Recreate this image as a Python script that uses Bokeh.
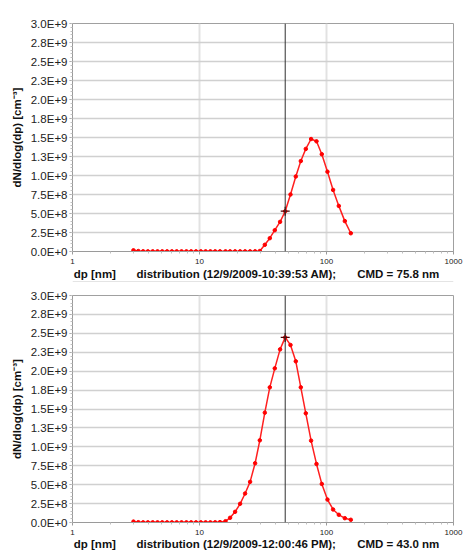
from bokeh.plotting import figure
from bokeh.models import Range1d, FixedTicker, Span
from bokeh.core.properties import value
from bokeh.layouts import column
from bokeh.embed import file_html
from bokeh.resources import INLINE

# ---------------- data ----------------
dp_nm = [3.02, 3.30, 3.60, 3.92, 4.28, 4.67, 5.09, 5.56, 6.06, 6.61, 7.22, 7.89, 8.60, 9.39,
         10.24, 11.17, 12.18, 13.29, 14.50,
         16.02, 17.41, 19.07, 20.88, 22.86, 25.02, 27.41, 29.85, 32.68, 35.77, 39.16, 43.11,
         47.30, 52.06, 57.32, 62.76, 68.71, 75.62, 83.41, 91.84, 101.8, 112.7, 125.0, 139.4, 155.4]

dist_1039 = [1.6e7, 6e6, 3e6, 2e6, 2e6, 2e6, 2e6, 2e6, 2e6, 2e6, 2e6, 2e6, 2e6, 2e6,
             2e6, 2e6, 2e6, 2e6, 2e6,
             2e6, 2e6, 2e6, 2e6, 2e6, 2e6, 3e6, 6e6, 8.8e7, 1.75e8, 2.8e8, 3.9e8,
             5.3e8, 7.5e8, 9.87e8, 1.19e9, 1.35e9, 1.48e9, 1.45e9, 1.28e9, 1.05e9, 8.1e8, 6.0e8, 4.0e8, 2.4e8]

dist_1200 = [1.2e7, 4e6, 2e6, 2e6, 2e6, 2e6, 2e6, 2e6, 2e6, 2e6, 2e6, 2e6, 2e6, 2e6,
             2e6, 2e6, 2e6, 3e6, 5e6,
             1.7e7, 6.2e7, 1.41e8, 2.47e8, 3.83e8, 5.37e8, 7.83e8, 1.086e9, 1.452e9, 1.786e9, 2.037e9, 2.288e9,
             2.446e9, 2.346e9, 2.13e9, 1.786e9, 1.443e9, 1.082e9, 7.74e8, 5.1e8, 3.03e8, 1.72e8, 1.02e8, 5.7e7, 3.6e7]

cursor_index = 31

stamps = ["distribution (12/9/2009-10:39:53 AM);", "distribution (12/9/2009-12:00:46 PM);"]
cmd_labels = ["CMD = 75.8 nm", "CMD = 43.0 nm"]
x_title = "dp [nm]"
y_title = "dN/dlog(dp) [cm⁻³]"

y_ticks = [0, 250000000, 500000000, 750000000, 1000000000, 1250000000, 1500000000,
           1750000000, 2000000000, 2250000000, 2500000000, 2750000000, 3000000000]
y_tick_labels = ["0.0E+0", "2.5E+8", "5.0E+8", "7.5E+8", "1.0E+9", "1.3E+9", "1.5E+9",
                 "1.8E+9", "2.0E+9", "2.3E+9", "2.5E+9", "2.8E+9", "3.0E+9"]
x_ticks = [1, 10, 100, 1000]
x_tick_labels = ["1", "10", "100", "1000"]
x_minor = [m * d for d in (1, 10, 100) for m in range(2, 10)]
y_minor = [i * 50000000 for i in range(0, 61)]

FONT = "Liberation Sans"
W = 466
LEFT = 72
RIGHT = 13


def make_panel(values, height, b_top, b_bottom):
    p = figure(width=W, height=height, x_axis_type="log",
               x_range=Range1d(1, 1000), y_range=Range1d(0, 3e9),
               output_backend="svg", toolbar_location=None,
               min_border_left=LEFT, min_border_right=RIGHT,
               min_border_top=b_top, min_border_bottom=b_bottom)
    p.background_fill_color = "white"
    p.border_fill_color = "white"
    p.outline_line_color = "#a0a0a0"
    p.outline_line_width = 1

    p.xaxis.ticker = FixedTicker(ticks=x_ticks, minor_ticks=x_minor)
    p.xaxis.major_label_overrides = dict(zip(x_ticks, x_tick_labels))
    p.yaxis.ticker = FixedTicker(ticks=y_ticks, minor_ticks=y_minor)
    p.yaxis.major_label_overrides = dict(zip(y_ticks, y_tick_labels))

    for ax in (p.xaxis[0], p.yaxis[0]):
        ax.axis_line_color = "#9a9a9a"
        ax.axis_line_width = 1
        ax.major_tick_line_color = "#9a9a9a"
        ax.major_tick_in = 0
        ax.major_tick_out = 3
        ax.minor_tick_line_color = "#c0c0c0"
        ax.minor_tick_in = 0
        ax.minor_tick_out = 2
        ax.major_label_text_font = FONT
        ax.major_label_text_color = "#222222"

    p.xaxis.major_label_text_font_size = "8px"
    p.xaxis.major_label_standoff = 4
    p.yaxis.major_label_text_font_size = "11.5px"
    p.yaxis.major_label_standoff = 2
    p.yaxis.axis_label = y_title
    p.yaxis.axis_label_text_font = FONT
    p.yaxis.axis_label_text_font_style = "bold"
    p.yaxis.axis_label_text_font_size = "11.5px"
    p.yaxis.axis_label_text_color = "#111111"
    p.yaxis.axis_label_standoff = 5

    p.xgrid.ticker = FixedTicker(ticks=[10, 100])
    p.xgrid.grid_line_color = "#e2e2e2"
    p.xgrid.grid_line_width = 2
    p.ygrid.ticker = FixedTicker(ticks=y_ticks)
    p.ygrid.grid_line_color = "#d0d0d0"
    p.ygrid.grid_line_width = 1.5

    p.line(dp_nm, values, line_color="#ff2020", line_width=1.5)
    p.scatter(dp_nm, values, size=3.5, fill_color="#ff0000", line_color="#ff0000")

    cx = dp_nm[cursor_index]
    p.add_layout(Span(location=cx, dimension="height", line_color="#303030", line_width=1))
    p.scatter([cx], [values[cursor_index]], marker="cross", size=9,
              line_color="#500000", line_width=1.3)
    return p


def make_caption(stamp, cmd, height, text_y, sep_y=None):
    # caption strip: its frame lines up with the chart frame, x measured in page pixels
    s = figure(width=W, height=height, x_range=Range1d(LEFT, W - RIGHT), y_range=Range1d(0, height),
               output_backend="svg", toolbar_location=None,
               min_border_left=LEFT, min_border_right=RIGHT, min_border_top=0, min_border_bottom=0,
               x_axis_location=None, y_axis_location=None)
    s.outline_line_color = None
    s.xgrid.visible = False
    s.ygrid.visible = False
    s.background_fill_color = "white"
    s.border_fill_color = "white"
    s.text(x=[73.3, 136.0, 356.7], y=[text_y] * 3, text=[x_title, stamp, cmd],
           text_font=value(FONT), text_font_style="bold", text_font_size="11.5px",
           text_color="#111111", text_align="left", text_baseline="middle")
    if sep_y is not None:
        s.line(x=[LEFT, W - RIGHT], y=[sep_y, sep_y], line_color="#c8c8c8", line_width=1)
    return s


p1 = make_panel(dist_1039, 266, 23, 15)
c1 = make_caption(stamps[0], cmd_labels[0], 16, 9, 0.5)
p2 = make_panel(dist_1200, 256, 13, 16)
c2 = make_caption(stamps[1], cmd_labels[1], 14, 9)

layout = column(p1, c1, p2, c2)
open("out.html", "w").write(file_html(layout, INLINE))
